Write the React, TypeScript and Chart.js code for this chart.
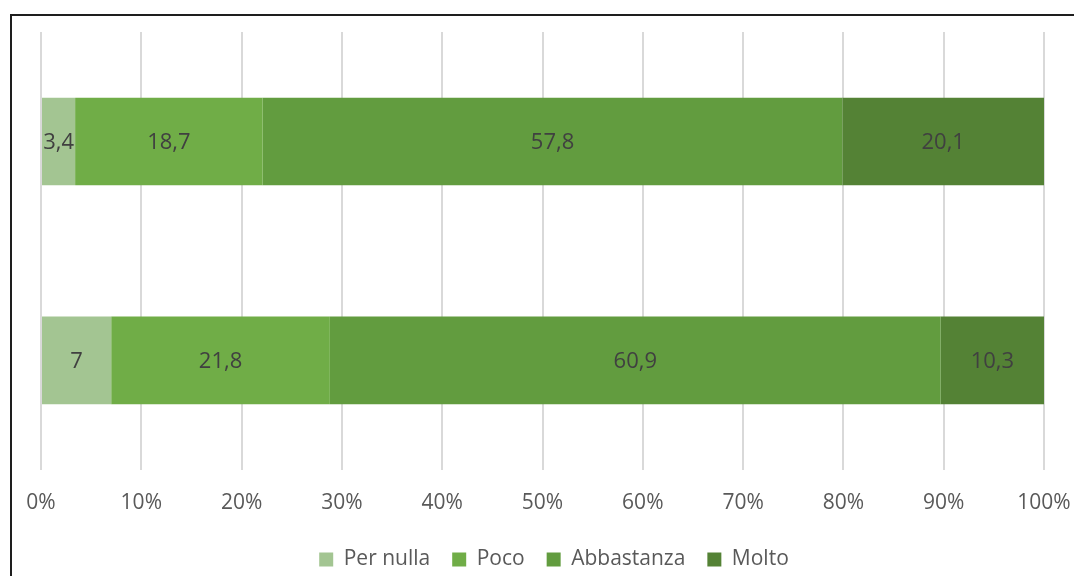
import React, { useEffect, useRef } from "react";
import { Chart, registerables } from "chart.js";

Chart.register(...registerables);

const categories = ["A", "B"];
const seriesNames = ["Per nulla", "Poco", "Abbastanza", "Molto"];
const perNulla = [3.4, 7];
const poco = [18.7, 21.8];
const abbastanza = [57.8, 60.9];
const molto = [20.1, 10.3];
const colors = ["#a3c592", "#70ad47", "#629c3f", "#548235"];
const xTicks = [0, 10, 20, 30, 40, 50, 60, 70, 80, 90, 100];

const FONT = "'Open Sans', sans-serif";

const dataLabelPlugin = {
  id: "dataLabels",
  afterDatasetsDraw(chart: any) {
    const ctx = chart.ctx;
    ctx.save();
    ctx.font = `22px ${FONT}`;
    ctx.fillStyle = "#404040";
    ctx.textAlign = "center";
    ctx.textBaseline = "middle";
    chart.data.datasets.forEach((ds: any, di: number) => {
      const meta = chart.getDatasetMeta(di);
      meta.data.forEach((bar: any, i: number) => {
        const v = ds.data[i];
        const left = Math.min(bar.x, bar.base);
        const right = Math.max(bar.x, bar.base);
        const label = String(v).replace(".", ",");
        ctx.fillText(label, (left + right) / 2, bar.y + 1);
      });
    });
    ctx.restore();
  },
};

const legendShiftPlugin = {
  id: "legendShift",
  afterLayout(chart: any) {
    if (chart.legend) {
      chart.legend.left += 23;
    }
  },
};

export default function App() {
  const ref = useRef<HTMLCanvasElement>(null);
  useEffect(() => {
    if (!ref.current) return;
    const values = [perNulla, poco, abbastanza, molto];
    const chart = new Chart(ref.current, {
      type: "bar",
      data: {
        labels: categories,
        datasets: seriesNames.map((name, i) => ({
          label: name,
          data: values[i],
          backgroundColor: colors[i],
          borderWidth: 0,
          categoryPercentage: 1,
          barPercentage: 0.4,
        })),
      },
      options: {
        indexAxis: "y",
        animation: false,
        responsive: true,
        maintainAspectRatio: false,
        layout: { padding: { left: 41, right: 64, top: 32, bottom: -4 } },
        plugins: {
          legend: {
            position: "bottom",
            labels: {
              font: { family: FONT, size: 21 },
              color: "#595959",
              boxWidth: 14,
              boxHeight: 14,
              padding: 22,
            },
          },
          tooltip: { enabled: false },
        },
        scales: {
          x: {
            stacked: true,
            min: 0,
            max: 100,
            afterBuildTicks(scale: any) {
              scale.ticks = xTicks.map((v) => ({ value: v }));
            },
            afterFit(scale: any) {
              scale.height -= 10;
              scale.paddingLeft = 0;
              scale.paddingRight = 0;
            },
            ticks: {
              callback: (v: any) => `${v}%`,
              font: { family: FONT, size: 21 },
              color: "#595959",
              padding: 21,
              maxRotation: 0,
            },
            grid: { color: "#d9d9d9", lineWidth: 2, drawTicks: false },
            border: { display: false },
          },
          y: {
            stacked: true,
            display: false,
            grid: { display: false },
          },
        },
      },
      plugins: [dataLabelPlugin, legendShiftPlugin],
    });
    return () => chart.destroy();
  }, []);

  return (
    <div
      style={{
        position: "fixed",
        left: 0,
        top: 0,
        width: 1074,
        height: 576,
        overflow: "hidden",
        background: "#fff",
      }}
    >
      <div
        style={{
          position: "absolute",
          left: 10,
          top: 14,
          width: 1200,
          height: 700,
          border: "2px solid #1e1e1e",
          boxSizing: "border-box",
        }}
      />
      <div style={{ position: "absolute", left: 0, top: 0, width: 1108, height: 576 }}>
        <canvas ref={ref} />
      </div>
    </div>
  );
}
